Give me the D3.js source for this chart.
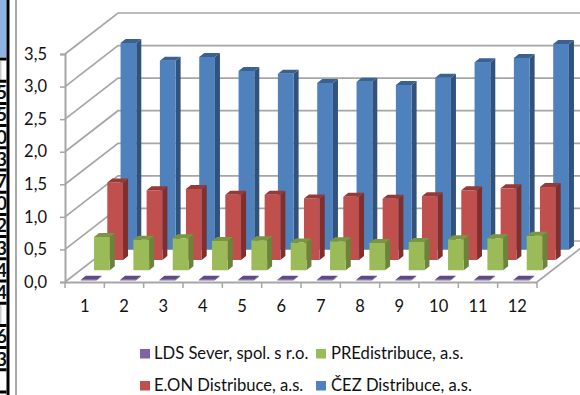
<!DOCTYPE html>
<html>
<head>
<meta charset="utf-8">
<script src="https://cdn.jsdelivr.net/npm/d3@7"></script>
<style>
    html, body { margin: 0; padding: 0; background: #fff; }
    svg { display: block; }
    text { font-family: Lato, "Open Sans", sans-serif; fill: #111; }
</style>
</head>
<body>
<div id="chart"></div>
<script>
// chart data
const categories = ['1', '2', '3', '4', '5', '6', '7', '8', '9', '10', '11', '12'];
const seriesNames = ['LDS Sever, spol. s r.o.', 'PREdistribuce, a.s.', 'E.ON Distribuce, a.s.', 'ČEZ Distribuce, a.s.'];
const ldsValues = [0.01, 0.01, 0.01, 0.01, 0.01, 0.01, 0.01, 0.01, 0.01, 0.01, 0.01, 0.01];
const preValues = [0.51, 0.47, 0.49, 0.45, 0.46, 0.425, 0.445, 0.42, 0.435, 0.475, 0.49, 0.53];
const eonValues = [1.19, 1.07, 1.09, 1.00, 1.00, 0.945, 0.97, 0.94, 0.98, 1.07, 1.10, 1.12];
const cezValues = [3.175, 2.90, 2.96, 2.745, 2.70, 2.56, 2.58, 2.53, 2.64, 2.88, 2.945, 3.16];
const yTicks = [0, 0.5, 1, 1.5, 2, 2.5, 3, 3.5];

// leftovers of the spreadsheet table next to the chart
const tableDigits = ['', '5', '5', '0', '3', '7', '0', '2', '3', '4', '4', '', '6', '3', ''];

// front, side and top colour per series
const frontColors = ['#8064A2', '#9BBB59', '#C0504D', '#4F81BD'];
const sideColors = ['#5c4776', '#6b8439', '#7f2f2d', '#31527c'];
const topColors = ['#5f4a85', '#7a9642', '#953a38', '#3a6291'];

class Bars3dVis {

    constructor(parentElement) {
        this.parentElement = parentElement;
        this.seriesValues = [ldsValues, preValues, eonValues, cezValues];
        this.initVis();
    }

    initVis() {
        let vis = this;

        vis.width = 580;
        vis.height = 395;

        // depth of the box in pixels
        vis.depthX = 53;
        vis.depthY = 41;

        vis.svg = d3.select('#' + vis.parentElement).append('svg')
            .attr('width', vis.width)
            .attr('height', vis.height);

        vis.x = d3.scaleBand().domain(categories).range([65, 537]);
        vis.y = d3.scaleLinear().domain([0, 3.5]).range([282, 54]);
        vis.depth = d3.scaleBand().domain(seriesNames).range([0, 1]);

        vis.drawTable();
        vis.drawWalls();
        vis.drawBars();
        vis.drawAxes();
        vis.drawLegend();
    }

    drawTable() {
        let vis = this;
        let rowY = d3.scaleLinear().domain([0, tableDigits.length]).range([59, 392]);

        vis.svg.append('clipPath').attr('id', 'table-clip')
            .append('rect').attr('width', 6.5).attr('height', vis.height);

        let table = vis.svg.append('g').attr('clip-path', 'url(#table-clip)');

        table.append('rect').attr('width', 7).attr('height', 57).attr('fill', '#8DB4E2');
        table.append('rect').attr('x', 0).attr('y', rowY(0) + 2).attr('width', 1.5).attr('height', 20).attr('fill', '#ccc');
        table.append('rect').attr('x', 0).attr('y', rowY(11) + 2).attr('width', 1.5).attr('height', 20).attr('fill', '#ccc');

        table.selectAll('.row-line')
            .data(d3.range(tableDigits.length + 1))
            .enter().append('line')
            .attr('class', 'row-line')
            .attr('x1', 0).attr('x2', 7)
            .attr('y1', d => rowY(d)).attr('y2', d => rowY(d))
            .attr('stroke', '#000')
            .attr('stroke-width', 3);

        table.selectAll('.digit')
            .data(tableDigits)
            .enter().append('text')
            .attr('class', 'digit')
            .attr('x', 7)
            .attr('y', (d, i) => rowY(i) + 18)
            .attr('text-anchor', 'end')
            .attr('font-size', 19)
            .attr('font-weight', 700)
            .text(d => d);

        vis.svg.append('rect').attr('x', 6.5).attr('width', 3).attr('height', vis.height).attr('fill', '#000');
        vis.svg.append('rect').attr('x', 15).attr('width', 2).attr('height', vis.height).attr('fill', '#a9a9a9');
    }

    drawWalls() {
        let vis = this;
        let x0 = vis.x.range()[0], x1 = vis.x.range()[1];

        // gridlines run over the left wall and the back wall
        let grid = vis.svg.append('g')
            .attr('fill', 'none')
            .attr('stroke', '#a6a6a6')
            .attr('stroke-width', 1.7);

        grid.selectAll('path')
            .data(yTicks)
            .enter().append('path')
            .attr('d', d => {
                let path = d3.path();
                path.moveTo(x0, vis.y(d));
                path.lineTo(x0 + vis.depthX, vis.y(d) - vis.depthY);
                path.lineTo(x1 + vis.depthX, vis.y(d) - vis.depthY);
                return path.toString();
            });

        // floor edge on the right
        grid.append('line')
            .attr('x1', x1).attr('y1', vis.y(0))
            .attr('x2', x1 + vis.depthX).attr('y2', vis.y(0) - vis.depthY);
    }

    drawBars() {
        let vis = this;
        let barWidth = vis.x.step() / 2.5;
        let sideX = 5, sideY = 4;

        // back series first so the nearer ones cover them
        d3.range(seriesNames.length).reverse().forEach(s => {
            let g = vis.svg.append('g').attr('class', 'series');
            let dx = vis.depth(seriesNames[s]) * vis.depthX + 4 + (vis.x.step() - barWidth) / 2;
            let dy = vis.depth(seriesNames[s]) * vis.depthY + 1.5;

            let bars = g.selectAll('g')
                .data(vis.seriesValues[s])
                .enter().append('g')
                .attr('transform', (d, i) => `translate(${vis.x(categories[i]) + dx}, ${-dy})`);

            bars.append('path')
                .attr('fill', sideColors[s])
                .attr('d', d => `M${barWidth},${vis.y(0)}l${sideX},${-sideY}L${barWidth + sideX},${vis.y(d) - sideY}L${barWidth},${vis.y(d)}Z`);

            bars.append('rect')
                .attr('y', d => vis.y(d))
                .attr('width', barWidth)
                .attr('height', d => vis.y(0) - vis.y(d))
                .attr('fill', frontColors[s]);

            bars.append('path')
                .attr('fill', topColors[s])
                .attr('d', d => `M0,${vis.y(d)}h${barWidth}l${sideX},${-sideY}h${-barWidth}Z`);
        });
    }

    drawAxes() {
        let vis = this;

        let yAxis = d3.axisLeft(vis.y)
            .tickValues(yTicks)
            .tickSize(5)
            .tickPadding(13)
            .tickFormat(d => d.toFixed(1).replace('.', ','));

        let xAxis = d3.axisBottom(vis.x)
            .tickSize(0)
            .tickPadding(18);

        let yGroup = vis.svg.append('g')
            .attr('transform', `translate(${vis.x.range()[0]}, 0)`)
            .call(yAxis);

        let xGroup = vis.svg.append('g')
            .attr('transform', `translate(0, ${vis.y(0)})`)
            .call(xAxis);

        xGroup.selectAll('.tick-mark')
            .data(categories.concat('end'))
            .enter().append('line')
            .attr('class', 'tick-mark')
            .attr('x1', d => d === 'end' ? vis.x.range()[1] : vis.x(d))
            .attr('x2', d => d === 'end' ? vis.x.range()[1] : vis.x(d))
            .attr('y2', 6)
            .attr('stroke', '#a6a6a6')
            .attr('stroke-width', 1.5);

        [yGroup, xGroup].forEach(g => {
            g.selectAll('.domain').attr('stroke', '#a6a6a6').attr('stroke-width', 2).attr('fill', 'none');
            g.selectAll('.tick line').attr('stroke', '#a6a6a6').attr('stroke-width', 1.5);
            g.selectAll('text').attr('font-family', null).attr('font-size', 16.5);
        });
    }

    drawLegend() {
        let vis = this;
        let colX = [140, 316], rowY = [349, 381];

        let items = vis.svg.selectAll('.legend-item')
            .data(seriesNames)
            .enter().append('g')
            .attr('class', 'legend-item')
            .attr('transform', (d, i) => `translate(${colX[i % 2]}, ${rowY[Math.floor(i / 2)]})`);

        items.append('rect')
            .attr('width', 10)
            .attr('height', 9.5)
            .attr('fill', (d, i) => frontColors[i]);

        items.append('text')
            .attr('x', (d, i) => i % 2 ? 15 : 14)
            .attr('y', 10)
            .attr('font-size', 16.6)
            .text(d => d);
    }
}

new Bars3dVis('chart');
</script>
</body>
</html>
